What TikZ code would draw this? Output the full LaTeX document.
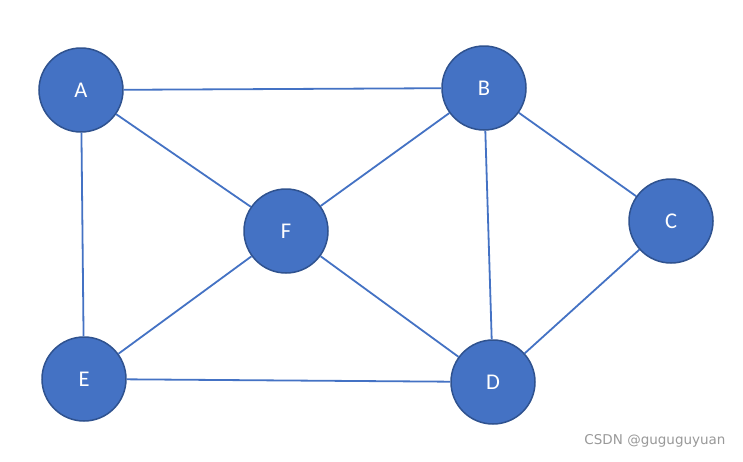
\documentclass[tikz,border=0pt]{standalone}
\usepackage{fontspec}
\setmainfont{Carlito}
\newfontfamily\wmfont{DejaVu Sans}
\definecolor{nodefill}{HTML}{4472C4}
\definecolor{nodeedge}{HTML}{2F528F}
\definecolor{edgecol}{HTML}{4472C4}
\begin{document}
\begin{tikzpicture}[x=1pt,y=-1pt,
  vert/.style={circle,fill=nodefill,draw=nodeedge,line width=1.5pt,minimum size=84pt,inner sep=0pt,text=white,font=\fontsize{22.5}{22.5}\selectfont},
  edge/.style={draw=edgecol,line width=1.8pt}]
\useasboundingbox[fill=white] (0,0) rectangle (743,461);
\node[vert] (A) at (81,90) {A};
\node[vert] (B) at (484,88) {B};
\node[vert] (C) at (671,221) {C};
\node[vert] (D) at (493,382) {D};
\node[vert] (E) at (84,379) {E};
\node[vert] (F) at (286,231) {F};
\path[edge] (A) -- (B);
\path[edge] (A) -- (F);
\path[edge] (A) -- (E);
\path[edge] (B) -- (F);
\path[edge] (B) -- (C);
\path[edge] (B) -- (D);
\path[edge] (F) -- (E);
\path[edge] (F) -- (D);
\path[edge] (E) -- (D);
\path[edge] (C) -- (D);
\node[text=black!40,font=\wmfont\fontsize{13.5}{13.5}\selectfont,anchor=center] (wm) at (655,441) {CSDN @guguguyuan};
\end{tikzpicture}
\end{document}
